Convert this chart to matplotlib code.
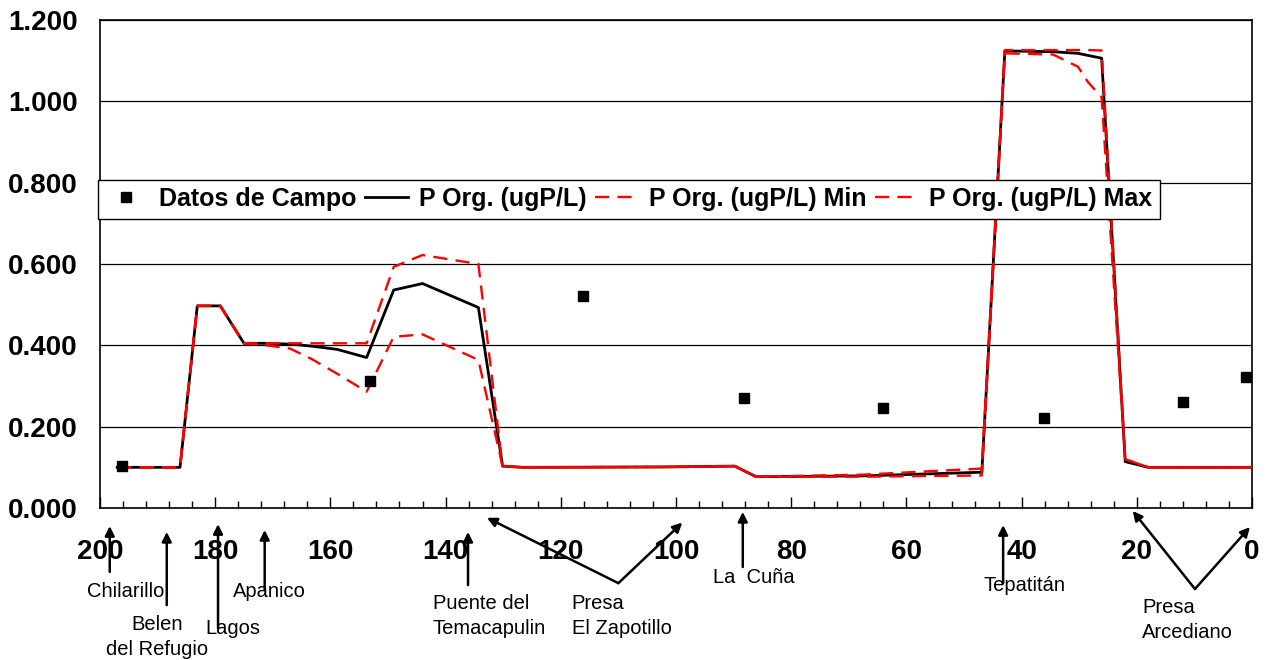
import matplotlib

matplotlib.use("Agg")

import matplotlib.pyplot as plt
from matplotlib.ticker import MultipleLocator, FormatStrFormatter

plt.rcParams["font.family"] = ["Liberation Sans", "DejaVu Sans"]

# field samples (km from the mouth, ugP/L)
obs_km = [196.2, 153.1, 116.1, 88.2, 64.1, 36.1, 12.0, 1.0]
obs_p = [0.103, 0.312, 0.521, 0.270, 0.246, 0.222, 0.261, 0.322]

# model profile
model_km = [197.0, 186.1, 183.1, 179.1, 175.0, 171.1, 167.0, 163.2, 158.8, 153.7,
            149.0, 144.0, 134.3, 130.1, 126.6, 101.6, 89.8, 86.1, 67.5, 46.9,
            42.9, 34.5, 30.2, 28.5, 26.1, 22.0, 18.0, 0.0]
p_org = [0.100, 0.100, 0.497, 0.497, 0.405, 0.405, 0.403, 0.398, 0.390, 0.370,
         0.536, 0.552, 0.493, 0.103, 0.100, 0.101, 0.103, 0.077, 0.079, 0.088,
         1.124, 1.122, 1.118, 1.113, 1.106, 0.114, 0.100, 0.100]
p_min = [0.100, 0.100, 0.497, 0.497, 0.405, 0.400, 0.392, 0.366, 0.330, 0.286,
         0.421, 0.427, 0.364, 0.103, 0.100, 0.101, 0.103, 0.077, 0.077, 0.080,
         1.118, 1.115, 1.085, 1.048, 1.010, 0.120, 0.100, 0.100]
p_max = [0.100, 0.100, 0.497, 0.497, 0.405, 0.405, 0.405, 0.405, 0.405, 0.405,
         0.593, 0.622, 0.600, 0.103, 0.100, 0.101, 0.103, 0.077, 0.082, 0.097,
         1.126, 1.126, 1.126, 1.126, 1.125, 0.120, 0.100, 0.100]

# site markers below the axis: (text, text x, text y, ha, arrow tips, arrow start)
sites = [
    ("Chilarillo", 195.5, -0.172, "center", [198.3], (198.3, -0.131)),
    ("Belen\ndel Refugio", 190.0, -0.265, "center", [188.4], (188.4, -0.199)),
    ("Lagos", 177.0, -0.247, "center", [179.5], (179.5, -0.246)),
    ("Apanico", 170.5, -0.172, "center", [171.4], (171.4, -0.168)),
    ("Puente del\nTemacapulin", 142.2, -0.221, "left", [136.1], (136.1, -0.158)),
    ("Presa\nEl Zapotillo", 118.1, -0.221, "left", [132.8, 98.9], (110.0, -0.154)),
    ("La  Cuña", 86.5, -0.143, "center", [88.4], (88.4, -0.121)),
    ("Tepatitán", 39.5, -0.158, "center", [43.2], (43.2, -0.154)),
    ("Presa\nArcediano", 19.1, -0.229, "left", [20.7, 0.35], (9.9, -0.166)),
]
tip_y = {198.3: -0.037, 188.4: -0.049, 179.5: -0.033, 171.4: -0.045, 136.1: -0.049,
         132.8: -0.020, 98.9: -0.030, 88.4: -0.008, 43.2: -0.035, 20.7: -0.006,
         0.35: -0.039}

fig = plt.figure(figsize=(12.7, 6.6), dpi=100)
ax = fig.add_axes([0.0787, 0.2303, 0.9071, 0.7394])

ax.plot(model_km, p_org, color="black", lw=2.0, label="P Org. (ugP/L)", zorder=3)
ax.plot(model_km, p_min, color="red", lw=1.7, ls=(0, (6, 3.5)), label="P Org. (ugP/L) Min", zorder=4)
ax.plot(model_km, p_max, color="red", lw=1.7, ls=(0, (6, 3.5)), label="P Org. (ugP/L) Max", zorder=4)
ax.plot(obs_km, obs_p, ls="none", marker="s", ms=7.5, color="black",
        label="Datos de Campo", zorder=5)

ax.set_xlim(200, 0)
ax.set_ylim(0, 1.2)
ax.xaxis.set_major_locator(MultipleLocator(20))
ax.xaxis.set_minor_locator(MultipleLocator(4))
ax.yaxis.set_major_locator(MultipleLocator(0.2))
ax.yaxis.set_major_formatter(FormatStrFormatter("%.3f"))
ax.grid(axis="y", color="black", lw=0.9)
ax.set_axisbelow(True)
ax.tick_params(axis="x", which="major", direction="in", length=8, width=1, pad=22,
               labelsize=20)
ax.tick_params(axis="x", which="minor", direction="in", length=5, width=1)
ax.tick_params(axis="y", length=0, pad=16, labelsize=20)
for lab in ax.get_xticklabels() + ax.get_yticklabels():
    lab.set_fontweight("bold")
for spine in ax.spines.values():
    spine.set_color("black")
    spine.set_linewidth(1.2)

handles, labels = ax.get_legend_handles_labels()
order = [3, 0, 1, 2]
leg = ax.legend([handles[i] for i in order], [labels[i] for i in order],
                loc="center", bbox_to_anchor=(0.459, 0.633), ncol=4,
                fancybox=False, framealpha=1, edgecolor="black",
                prop={"weight": "bold", "size": 18}, handlelength=1.7,
                handletextpad=0.45, columnspacing=0.35, borderpad=0.3)
leg.get_frame().set_linewidth(1.0)

trans = ax.get_xaxis_transform()
for text, tx, ty, ha, tips, start in sites:
    ax.text(tx, ty, text, transform=trans, ha=ha, va="center", fontsize=14.5,
            linespacing=1.4, clip_on=False)
    for tip in tips:
        ax.annotate("", xy=(tip, tip_y[tip]), xycoords=trans, xytext=start,
                    textcoords=trans,
                    arrowprops=dict(arrowstyle="-|>", color="black", lw=1.8,
                                    mutation_scale=14, shrinkA=0, shrinkB=0))

fig.savefig("out.png", dpi=100)
